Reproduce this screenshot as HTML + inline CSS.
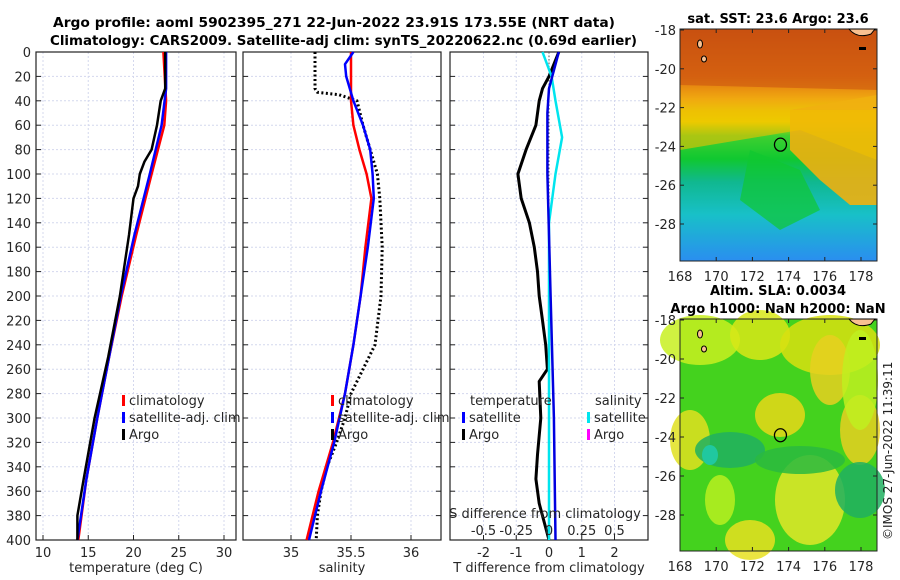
<!DOCTYPE html>
<html><head><meta charset="utf-8"><style>
html,body{margin:0;padding:0;background:#fff;}
svg{display:block;font-family:"DejaVu Sans","Liberation Sans",sans-serif;}
.t{font-size:13px;fill:#262626;}
.b{font-weight:bold;font-size:13px;fill:#000;}
</style></head><body>
<svg id="fig" width="900" height="580" viewBox="0 0 900 580">
<text class="b" x="53" y="27" textLength="562" lengthAdjust="spacingAndGlyphs" style="font-size:13.6px">Argo profile: aoml 5902395_271 22-Jun-2022 23.91S 173.55E (NRT data)</text>
<text class="b" x="50" y="45" textLength="587" lengthAdjust="spacingAndGlyphs" style="font-size:13.4px">Climatology: CARS2009. Satellite-adj clim: synTS_20220622.nc (0.69d earlier)</text>
<g id="p1"></g>
<g id="p2"></g>
<g id="p3"></g>
<g id="m1"></g>
<g id="m2"></g>
<text x="892" y="540" transform="rotate(-90 892 540)" style="font-size:12px;fill:#222">©IMOS 27-Jun-2022 11:39:11</text>
</svg>
<script>
// ---- data ----
const depthTicks=[0,20,40,60,80,100,120,140,160,180,200,220,240,260,280,300,320,340,360,380,400];
const tempTicks=[10,15,20,25,30];
const salTicks=[35,35.5,36];
const tdTicks=[-2,-1,0,1,2];
const sdTickVals=[-0.5,-0.25,0,0.25,0.5];
const sdTickLabels=["-0.5","-0.25","0","0.25","0.5"];
const tClimDepth=[0,40,60,100,150,200,250,300,350,400];
const tClim=[23.3,23.6,23.4,22.0,20.3,18.7,17.3,16.0,14.8,13.9];
const tSatDepth=[0,30,60,100,150,200,250,300,350,400];
const tSat=[23.6,23.6,23.1,21.8,20.1,18.6,17.3,16.0,14.8,13.8];
const tArgoDepth=[0,30,40,60,80,90,100,110,120,150,200,250,300,350,380,400];
const tArgo=[23.5,23.5,23.0,22.6,22.0,21.2,20.7,20.5,20.0,19.5,18.5,17.2,15.7,14.5,13.8,13.8];
const sClimDepth=[0,40,60,80,100,120,160,200,240,280,320,360,400];
const sClim=[35.5,35.5,35.52,35.57,35.63,35.67,35.62,35.58,35.52,35.45,35.35,35.23,35.13];
const sSatDepth=[0,10,20,40,60,80,100,120,160,200,240,280,320,360,400];
const sSat=[35.52,35.45,35.46,35.52,35.6,35.66,35.68,35.69,35.64,35.58,35.52,35.45,35.36,35.25,35.15];
const sArgoDepth=[0,30,33,35,40,60,80,100,120,160,200,240,260,280,300,320,340,360,380,400];
const sArgo=[35.2,35.2,35.22,35.4,35.55,35.6,35.66,35.72,35.74,35.76,35.75,35.7,35.6,35.5,35.45,35.38,35.3,35.25,35.22,35.21];
const tdSatDepth=[0,30,50,100,150,200,300,400];
const tdSat=[0.3,0.0,-0.05,-0.05,0.0,0.05,0.15,0.2];
const sdSatDepth=[0,20,40,70,100,140,200,300,400];
const sdSat=[-0.05,0.02,0.05,0.1,0.05,0.0,0.0,0.0,0.0];
const tdArgoDepth=[0,20,30,40,60,80,100,120,140,160,180,200,220,240,260,270,300,330,350,370,390,400];
const tdArgo=[0.3,0.0,-0.2,-0.3,-0.4,-0.7,-0.95,-0.85,-0.6,-0.45,-0.35,-0.3,-0.2,-0.1,-0.05,-0.3,-0.25,-0.35,-0.4,-0.3,-0.1,0.0];
const mapLonTicks=[168,170,172,174,176,178];
const mapLatTicks=[-18,-20,-22,-24,-26,-28];
const argoLon=173.55, argoLat=-23.91;

const NS="http://www.w3.org/2000/svg";
function el(p,tag,a){const e=document.createElementNS(NS,tag);for(const k in a)e.setAttribute(k,a[k]);p.appendChild(e);return e;}
const yTop=52,yBot=540;
const yD=d=>yTop+(d/400)*(yBot-yTop);

function panel(g,x0,x1,xf,ticks,labels,showY){
  for(const d of depthTicks){const y=yD(d);
    const gl=el(g,'line',{x1:x0,x2:x1,y1:y,y2:y,stroke:'#d4d8ee','stroke-dasharray':'2,2','stroke-width':1});
    
    el(g,'line',{x1:x0,x2:x0+5,y1:y,y2:y,stroke:'#222'});el(g,'line',{x1:x1-5,x2:x1,y1:y,y2:y,stroke:'#222'});
    if(showY){const t=el(g,'text',{x:x0-5,y:y+5,'text-anchor':'end',class:'t'});t.textContent=d;
      }
  }
  ticks.forEach((v,i)=>{const x=xf(v);
    el(g,'line',{x1:x,x2:x,y1:yTop,y2:yBot,stroke:'#d4d8ee','stroke-dasharray':'2,2'});
    el(g,'line',{x1:x,x2:x,y1:yBot-5,y2:yBot,stroke:'#222'});
    const t=el(g,'text',{x:x,y:yBot+17,'text-anchor':'middle',class:'t'});t.textContent=labels[i];
    });
  const r=el(g,'rect',{x:x0,y:yTop,width:x1-x0,height:yBot-yTop,fill:'none',stroke:'#222','stroke-width':1.2});
  
}
function line(g,xf,vals,deps,color,w,dash,name){
  const pts=vals.map((v,i)=>xf(v).toFixed(1)+','+yD(deps[i]).toFixed(1)).join(' ');
  const a={points:pts,fill:'none',stroke:color,'stroke-width':w,'stroke-linejoin':'round'};
  if(dash)a['stroke-dasharray']=dash;
  const p=el(g,'polyline',a);
  
}
function txt(g,x,y,s,anchor,name,cls){const t=el(g,'text',{x:x,y:y,'text-anchor':anchor||'start',class:cls||'t'});t.textContent=s;
  return t;}
function legend(g,x,y,color,label,name){
  const m=el(g,'rect',{x:x,y:y-10,width:3,height:11,fill:color});
  
  txt(g,x+7,y,label,'start',name);
}

// panel 1
const g1=document.getElementById('p1');const xT=v=>43+(v-10)*9.05;
panel(g1,36,236,xT,tempTicks,tempTicks.map(String),true);
line(g1,xT,tClim,tClimDepth,'#ff0000',2.5,null,'temp-climatology-line');
line(g1,xT,tSat,tSatDepth,'#0000ff',2.5,null,'temp-satellite-line');
line(g1,xT,tArgo,tArgoDepth,'#000',2.5,null,'temp-argo-line');
legend(g1,122,405,'#ff0000','climatology','legend-climatology');
legend(g1,122,422,'#0000ff','satellite-adj. clim','legend-satellite');
legend(g1,122,439,'#000','Argo','legend-argo');
txt(g1,136,572,'temperature (deg C)','middle','x-axis-title-temperature');

// panel 2
const g2=document.getElementById('p2');const xS=v=>291+(v-35)*120;
panel(g2,243,441,xS,salTicks,['35','35.5','36'],false);
line(g2,xS,sArgo,sArgoDepth,'#000',3,'2,2.5','sal-argo-line');
line(g2,xS,sClim,sClimDepth,'#ff0000',2.5,null,'sal-climatology-line');
line(g2,xS,sSat,sSatDepth,'#0000ff',2.5,null,'sal-satellite-line');
legend(g2,331,405,'#ff0000','climatology','legend-climatology');
legend(g2,331,422,'#0000ff','satellite-adj. clim','legend-satellite');
legend(g2,331,439,'#000','Argo','legend-argo');
txt(g2,342,572,'salinity','middle','x-axis-title-salinity');

// panel 3
const g3=document.getElementById('p3');const xTd=v=>549+v*32.75;const xSd=v=>549+v*131;
panel(g3,450,648,xTd,tdTicks,tdTicks.map(String),false);
el(g3,'line',{x1:549,x2:549,y1:yTop,y2:yBot,stroke:'#555','stroke-dasharray':'1.5,2'});
line(g3,xTd,tdArgo,tdArgoDepth,'#000',3,null,'tdiff-argo-line');
line(g3,xSd,sdSat,sdSatDepth,'#00e5ee',2.5,null,'sdiff-satellite-line');
line(g3,xTd,tdSat,tdSatDepth,'#0000e0',2.5,null,'tdiff-satellite-line');
txt(g3,470,405,'temperature','start','legend-title-temperature');
legend(g3,462,422,'#0000ff','satellite','legend-t-satellite');
legend(g3,462,439,'#000','Argo','legend-t-argo');
txt(g3,595,405,'salinity','start','legend-title-salinity');
legend(g3,587,422,'#00e5ee','satellite','legend-s-satellite');
legend(g3,587,439,'#ff00ff','Argo','legend-s-argo');
txt(g3,545,518,'S difference from climatology','middle','s-axis-title');
sdTickVals.forEach((v,i)=>txt(g3,xSd(v),535,sdTickLabels[i],'middle','s-tick-label'));
txt(g3,549,572,'T difference from climatology','middle','x-axis-title-tdiff');

// maps
function mapAxes(g,x0,y0,x1,y1,lat18,pxLat,labelY){
  const xL=v=>680+(v-168)*18.1;
  mapLonTicks.forEach(v=>{const x=xL(v);el(g,'line',{x1:x,x2:x,y1:y1-4,y2:y1,stroke:'#222'});el(g,'line',{x1:x,x2:x,y1:y0,y2:y0+4,stroke:'#222'});
    txt(g,x,labelY,String(v),'middle','lon-tick-label');});
  mapLatTicks.forEach(v=>{const y=lat18+(-18-v)*pxLat;
    el(g,'line',{x1:x0,x2:x0+4,y1:y,y2:y,stroke:'#222'});el(g,'line',{x1:x1-4,x2:x1,y1:y,y2:y,stroke:'#222'});
    txt(g,x0-4,y+5,String(v),'end','lat-tick-label');});
  const r=el(g,'rect',{x:x0,y:y0,width:x1-x0,height:y1-y0,fill:'none',stroke:'#222'});
  
  const c=el(g,'ellipse',{cx:xL(argoLon),cy:lat18+(-18-argoLat)*pxLat,rx:6,ry:6.5,fill:'none',stroke:'#000','stroke-width':1.3});
  
  el(g,'path',{d:`M${x1-28},${y0} q8,10 22,5 l4,-5z`,fill:'#f8c090',stroke:'#000'});
  el(g,'ellipse',{cx:x0+20,cy:y0+15,rx:2.5,ry:4,fill:'#f8c090',stroke:'#000'});
  el(g,'ellipse',{cx:x0+24,cy:y0+30,rx:2.5,ry:3,fill:'#f8c090',stroke:'#000'});
  el(g,'rect',{x:x1-18,y:y0+18,width:7,height:3,fill:'#000'});
}
const m1=document.getElementById('m1');
const defs=el(document.getElementById('fig'),'defs',{});
const lg=el(defs,'linearGradient',{id:'sst',x1:0,y1:0,x2:0,y2:1});
[[0,'#c44a10'],[0.2,'#e07010'],[0.3,'#f0a810'],[0.4,'#e8d800'],[0.46,'#40d030'],[0.56,'#10c830'],[0.66,'#10b890'],[0.8,'#18c0c8'],[1,'#2a8ef0']].forEach(s=>el(lg,'stop',{offset:s[0],'stop-color':s[1]}));
el(m1,'rect',{x:680,y:29,width:197,height:232,fill:'url(#sst)'});
el(m1,'path',{d:'M790,110 L877,95 L877,205 L850,205 L820,180 L790,150z',fill:'#f0b010',opacity:0.9});
el(m1,'path',{d:'M680,110 L877,110 L877,160 L800,130 L680,150z',fill:'#f0c000',opacity:0.6});
el(m1,'path',{d:'M680,29 L877,29 L877,90 L680,85z',fill:'#cc5510',opacity:0.6});
el(m1,'path',{d:'M750,150 L800,170 L820,210 L780,230 L740,200z',fill:'#10c830',opacity:0.7});
txt(m1,778,23,'sat. SST: 23.6 Argo: 23.6','middle','sst-map-title','b');
mapAxes(m1,680,29,877,261,30,19.4,281);

const m2=document.getElementById('m2');
el(m2,'rect',{x:680,y:319,width:197,height:232,fill:'#44d21e'});
const blobs=[[700,340,40,25,'#c8f020'],[760,335,30,25,'#d8e818'],[830,345,50,30,'#d8e010'],[830,370,20,35,'#e8d020'],[780,415,25,22,'#e8d818'],[690,440,20,30,'#e0e020'],[860,430,20,35,'#e8d020'],[810,500,35,45,'#e0e828'],[750,540,25,20,'#e8e020'],[720,500,15,25,'#b8f020'],[730,450,35,18,'#20b060'],[860,490,25,28,'#20b060'],[800,460,45,14,'#2aba40'],[860,380,18,50,'#c0f020']];
blobs.forEach(b=>el(m2,'ellipse',{cx:b[0],cy:b[1],rx:b[2],ry:b[3],fill:b[4],opacity:0.85}));
el(m2,'ellipse',{cx:710,cy:455,rx:8,ry:10,fill:'#20c8a0'});
txt(m2,778,295,'Altim. SLA: 0.0034','middle','sla-map-title','b');
txt(m2,778,313,'Argo h1000: NaN h2000: NaN','middle','sla-map-subtitle','b');
mapAxes(m2,680,319,877,551,320,19.5,571);
</script>
</body></html>
